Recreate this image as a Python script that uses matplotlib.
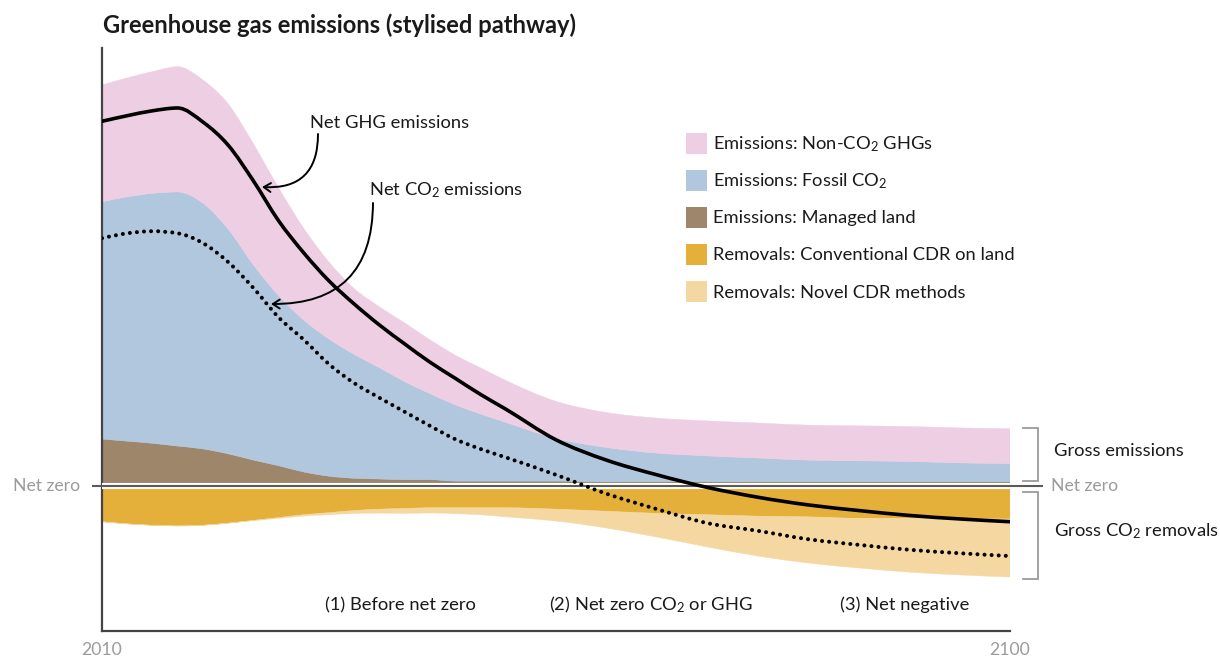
import matplotlib
matplotlib.use("Agg")
import matplotlib.pyplot as plt
from matplotlib.patches import FancyArrowPatch, Rectangle, PathPatch
from matplotlib.path import Path
import numpy as np

plt.rcParams['font.family'] = ['Lato', 'DejaVu Sans']
plt.rcParams['mathtext.fontset'] = 'custom'
plt.rcParams['mathtext.rm'] = 'Lato'
plt.rcParams['mathtext.it'] = 'Lato'
plt.rcParams['mathtext.default'] = 'regular'

# ---------------- data (stylised, arbitrary units) ----------------
years = [2010, 2012.5, 2015, 2017.5, 2020, 2022.5, 2025, 2027.5, 2030, 2032.5,
         2035, 2037.5, 2040, 2042.5, 2045, 2047.5, 2050, 2055, 2060, 2065,
         2070, 2075, 2080, 2085, 2090, 2095, 2100]

managed_land = [6.7, 6.4, 6.1, 5.7, 5.3, 4.6, 3.7, 2.9, 2.0, 1.4,
                1.1, 1.0, 0.9, 0.9, 0.7, 0.7, 0.7, 0.7, 0.6, 0.6,
                0.6, 0.6, 0.6, 0.6, 0.6, 0.6, 0.6]
fossil_co2 = [33.9, 34.9, 35.7, 36.3, 35.1, 32.1, 27.9, 24.3, 21.7, 19.6,
              17.7, 15.9, 14.0, 12.3, 10.9, 9.6, 8.4, 6.1, 4.9, 4.1,
              3.7, 3.4, 3.1, 3.0, 2.9, 2.7, 2.6]
non_co2 = [16.7, 17.0, 17.4, 17.9, 17.6, 17.9, 17.3, 15.4, 13.1, 11.0,
           9.4, 8.7, 8.4, 7.7, 7.1, 6.6, 6.0, 5.3, 5.0, 5.0,
           5.0, 5.0, 5.0, 5.0, 5.0, 5.0, 5.0]
conventional_cdr = [5.1, 5.4, 5.6, 5.7, 5.6, 5.3, 4.9, 4.5, 4.1, 3.8,
                    3.5, 3.3, 3.2, 3.1, 3.1, 3.1, 3.1, 3.3, 3.6, 3.9,
                    4.1, 4.3, 4.4, 4.6, 4.6, 4.7, 4.7]
novel_cdr = [0.0, 0.0, 0.0, 0.0, 0.0, 0.0, 0.05, 0.12, 0.2, 0.29,
             0.43, 0.57, 0.71, 0.75, 0.86, 1.0, 1.3, 1.7, 2.4, 3.4,
             4.6, 5.7, 6.6, 7.1, 7.7, 8.0, 8.3]
net_ghg = [52.1, 52.9, 53.6, 54.0, 52.0, 48.7, 43.6, 37.9, 33.3, 29.3,
           26.0, 23.0, 20.3, 17.7, 15.4, 13.1, 11.0, 6.6, 3.7, 1.6,
           -0.2, -1.6, -2.7, -3.5, -4.2, -4.7, -5.1]
net_co2 = [35.4, 36.1, 36.4, 36.1, 34.7, 32.0, 28.3, 24.1, 20.9, 17.4,
           14.7, 12.6, 10.6, 8.6, 6.7, 5.3, 4.1, 1.6, -1.1, -3.3,
           -5.3, -6.4, -7.6, -8.4, -9.1, -9.6, -10.0]

legend_labels = ["Emissions: Non-CO$_2$ GHGs", "Emissions: Fossil CO$_2$",
                 "Emissions: Managed land", "Removals: Conventional CDR on land",
                 "Removals: Novel CDR methods"]
phase_labels = ["(1) Before net zero", "(2) Net zero CO$_2$ or GHG", "(3) Net negative"]
phase_years = [2039.6, 2064.4, 2089.6]

# ---------------- styles ----------------
c_pink = "#EECEE3"
c_blue = "#B0C7DD"
c_brown = "#9E866B"
c_dark = "#E5B039"
c_light = "#F5D7A1"
c_gray = "#9B9B9B"
c_text = "#1a1a1a"
FS = 13.2

W, H = 1220, 657
fig = plt.figure(figsize=(W / 100, H / 100), dpi=100)
ax = fig.add_axes([102 / W, (H - 631) / H, 908 / W, (631 - 48) / H])


# ---- smooth (monotone cubic, like d3.curveMonotoneX) path segments ----
def _tangents(x, y):
    x = np.asarray(x, float)
    y = np.asarray(y, float)
    n = len(x)
    h = np.diff(x)
    s = np.diff(y) / h
    m = np.zeros(n)
    for i in range(1, n - 1):
        s0, s1 = s[i - 1], s[i]
        if s0 * s1 <= 0:
            m[i] = 0.0
        else:
            p = (s0 * h[i] + s1 * h[i - 1]) / (h[i - 1] + h[i])
            m[i] = (np.sign(s0) + np.sign(s1)) * min(abs(s0), abs(s1), 0.5 * abs(p))
    m[0] = (3 * s[0] - m[1]) / 2
    m[-1] = (3 * s[-1] - m[-2]) / 2
    return m


def curve_segments(x, y):
    """Bezier control vertices (after the first point) through (x, y)."""
    x = np.asarray(x, float)
    y = np.asarray(y, float)
    m = _tangents(x, y)
    verts = []
    for i in range(len(x) - 1):
        h = x[i + 1] - x[i]
        verts.append((x[i] + h / 3, y[i] + m[i] * h / 3))
        verts.append((x[i + 1] - h / 3, y[i + 1] - m[i + 1] * h / 3))
        verts.append((x[i + 1], y[i + 1]))
    return verts


def line_path(x, y):
    segs = curve_segments(x, y)
    verts = [(x[0], y[0])] + segs
    codes = [Path.MOVETO] + [Path.CURVE4] * len(segs)
    return Path(verts, codes)


def area_path(x, ytop, ybot):
    x = list(x)
    top = curve_segments(x, ytop)
    bot = curve_segments(x[::-1], list(ybot)[::-1])
    verts = [(x[0], ytop[0])] + top + [(x[-1], ybot[-1])] + bot + [(x[0], ytop[0])]
    codes = ([Path.MOVETO] + [Path.CURVE4] * len(top) + [Path.LINETO]
             + [Path.CURVE4] * len(bot) + [Path.CLOSEPOLY])
    return Path(verts, codes)


yrs = np.array(years, float)
land = np.array(managed_land)
fos = np.array(fossil_co2)
non = np.array(non_co2)
conv = np.array(conventional_cdr)
nov = np.array(novel_cdr)
zero = np.zeros_like(yrs)

layers = [
    (zero, land, c_brown),
    (land, land + fos, c_blue),
    (land + fos, land + fos + non, c_pink),
    (zero, -conv, c_dark),
    (-conv, -conv - nov, c_light),
]
for lo, hi, col in layers:
    ax.add_patch(PathPatch(area_path(yrs, hi, lo), facecolor=col, edgecolor=col,
                           lw=0.3, zorder=1))

# net zero band and line
ax.plot([2010, 2100], [0, 0], color="white", lw=4.4, solid_capstyle="butt", zorder=3)
ax.plot([2009.0, 2103.3], [0, 0], color="#5a5a5a", lw=1.5, solid_capstyle="butt",
        zorder=4, clip_on=False)

ghg_patch = PathPatch(line_path(yrs, net_ghg), fill=False, edgecolor="black",
                      lw=2.6, zorder=5, capstyle="round", joinstyle="round")
ax.add_patch(ghg_patch)
co2_patch = PathPatch(line_path(yrs, net_co2), fill=False, edgecolor="black",
                      lw=2.9, linestyle=(0, (0.01, 1.75)), capstyle="round", zorder=5)
ax.add_patch(co2_patch)

ax.set_xlim(2010, 2100)
ax.set_ylim(-20.71, 62.57)
for s in ["top", "right"]:
    ax.spines[s].set_visible(False)
for s in ["left", "bottom"]:
    ax.spines[s].set_color("#444444")
    ax.spines[s].set_linewidth(1.6)
ax.set_yticks([])
ax.set_xticks([2010, 2100])
ax.set_xticklabels(["2010", "2100"])
ax.tick_params(axis="x", length=0, pad=8, labelsize=FS - 0.5, labelcolor=c_gray)

# title
fig.text(103 / W, 1 - 25 / H, "Greenhouse gas emissions (stylised pathway)",
         fontsize=17.1, fontweight="bold", color=c_text, ha="left", va="center")

# net zero labels
ax.text(2010 - 2.2, 0, "Net zero", ha="right", va="center", fontsize=FS - 0.5,
        color=c_gray, clip_on=False)
ax.text(2104.1, 0, "Net zero", ha="left", va="center", fontsize=FS - 0.5,
        color=c_gray, clip_on=False)


# brackets
def bracket(y0, y1):
    ax.plot([2101.3, 2102.8, 2102.8, 2101.3], [y0, y0, y1, y1], color=c_gray,
            lw=1.3, clip_on=False, solid_joinstyle="miter")


bracket(8.29, 0.71)
bracket(-0.86, -13.29)
ax.text(2104.4, 5.0, "Gross emissions", ha="left", va="center", fontsize=FS,
        color=c_text, clip_on=False)
ax.text(2104.4, -6.4, "Gross CO$_2$ removals", ha="left", va="center", fontsize=FS,
        color=c_text, clip_on=False)

# legend (manual)
leg_colors = [c_pink, c_blue, c_brown, c_dark, c_light]
for i, (lab, col) in enumerate(zip(legend_labels, leg_colors)):
    yc = 143.5 + 37 * i
    fig.patches.append(Rectangle((686 / W, 1 - (yc + 10.5) / H), 21 / W, 21 / H,
                                 transform=fig.transFigure, color=col, lw=0))
    fig.text(713 / W, 1 - (yc + 1) / H, lab, fontsize=FS, color=c_text,
             ha="left", va="center")

# phase labels
for lab, yr in zip(phase_labels, phase_years):
    ax.text(yr, -17.0, lab, ha="center", va="center", fontsize=FS, color=c_text)

# annotations
ax.text(2030.6, 51.9, "Net GHG emissions", ha="left", va="center", fontsize=FS,
        color=c_text)
ax.text(2036.5, 42.3, "Net CO$_2$ emissions", ha="left", va="center", fontsize=FS,
        color=c_text)


def xy(px, py):
    return (2010 + (px - 102) / 908 * 90, (486 - py) / 7)


a1 = FancyArrowPatch(xy(318, 134), xy(262, 187), connectionstyle="arc3,rad=-0.53",
                     arrowstyle="->,head_length=5,head_width=3.2", lw=1.4,
                     color="black", zorder=6, shrinkA=0, shrinkB=0)
a2 = FancyArrowPatch(xy(373, 203), xy(271, 304), connectionstyle="arc3,rad=-0.5",
                     arrowstyle="->,head_length=5,head_width=3.2", lw=1.4,
                     color="black", zorder=6, shrinkA=0, shrinkB=0)
ax.add_patch(a1)
ax.add_patch(a2)

fig.savefig("out.png", dpi=100)
